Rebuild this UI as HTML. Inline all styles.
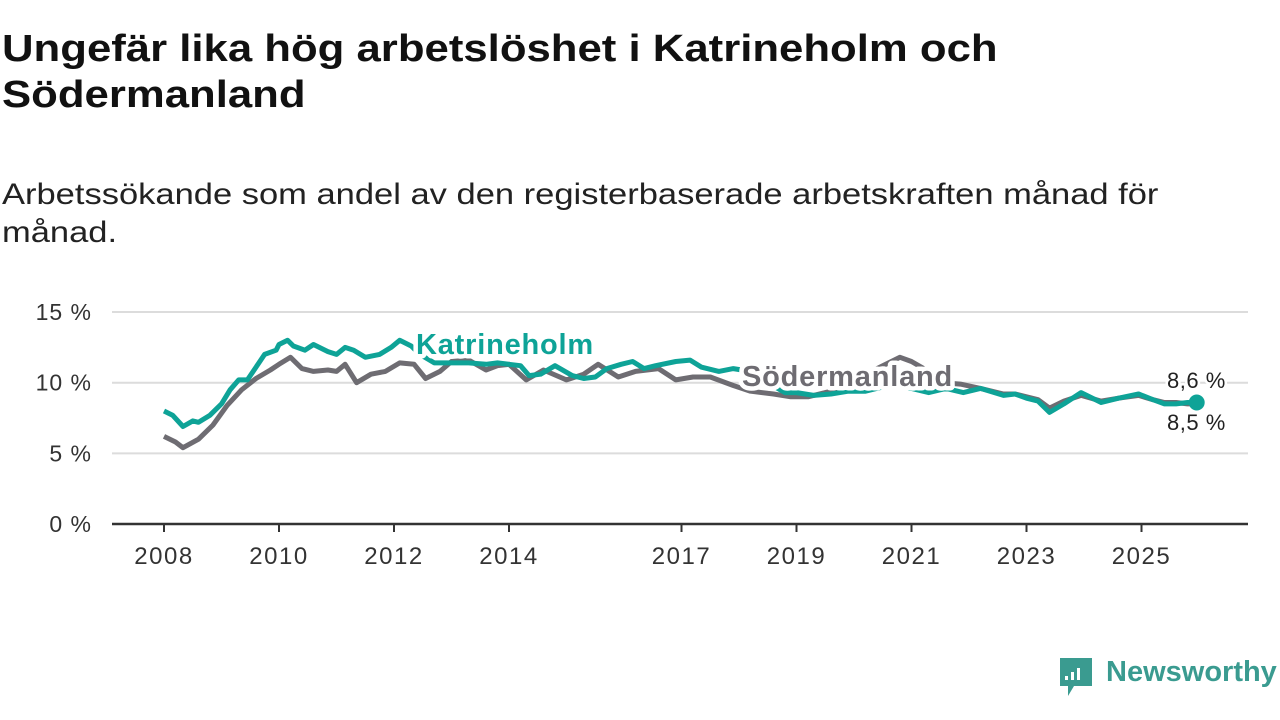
<!DOCTYPE html>
<html><head><meta charset="utf-8">
<style>
body{margin:0;background:#fff;width:1280px;height:720px;overflow:hidden;font-family:"Liberation Sans",sans-serif;}
#title{position:absolute;left:2px;top:26px;font-size:38px;font-weight:bold;line-height:46px;color:#111;margin:0;transform:scaleX(1.15);transform-origin:0 0;white-space:nowrap;}
#subtitle{position:absolute;left:2px;top:176px;font-size:30px;line-height:38px;color:#222;margin:0;transform:scaleX(1.15);transform-origin:0 0;white-space:nowrap;}
svg{position:absolute;left:0;top:0;}
</style></head>
<body>
<h1 id="title">Ungefär lika hög arbetslöshet i Katrineholm och<br>Södermanland</h1>
<p id="subtitle">Arbetssökande som andel av den registerbaserade arbetskraften månad för<br>månad.</p>
<svg id="chart" width="1280" height="720"></svg>
<script>
const yTicks=[0,5,10,15];
const yTickLabels=["0 %","5 %","10 %","15 %"];
const xTicks=[2008,2010,2012,2014,2017,2019,2021,2023,2025];
const katYears=[2008.0,2008.15,2008.33,2008.5,2008.6,2008.8,2009.0,2009.15,2009.3,2009.45,2009.65,2009.75,2009.95,2010.0,2010.15,2010.25,2010.45,2010.6,2010.85,2011.0,2011.15,2011.3,2011.5,2011.75,2011.95,2012.1,2012.3,2012.45,2012.7,2013.0,2013.3,2013.6,2013.8,2014.0,2014.2,2014.35,2014.55,2014.8,2015.1,2015.3,2015.5,2015.7,2015.95,2016.15,2016.35,2016.55,2016.9,2017.15,2017.35,2017.65,2017.9,2018.2,2018.5,2018.8,2019.0,2019.3,2019.6,2019.9,2020.2,2020.5,2020.8,2021.0,2021.3,2021.6,2021.9,2022.2,2022.6,2022.8,2023.0,2023.2,2023.4,2023.65,2023.95,2024.3,2024.6,2024.95,2025.2,2025.4,2025.6,2025.8,2025.96];
const katValues=[8.0,7.7,6.9,7.3,7.2,7.7,8.5,9.5,10.2,10.2,11.4,12.0,12.3,12.7,13.0,12.6,12.3,12.7,12.2,12.0,12.5,12.3,11.8,12.0,12.5,13.0,12.6,12.0,11.4,11.4,11.4,11.3,11.4,11.3,11.2,10.5,10.6,11.2,10.5,10.3,10.4,11.0,11.3,11.5,11.0,11.2,11.5,11.6,11.1,10.8,11.0,10.8,10.0,9.3,9.3,9.1,9.2,9.4,9.4,9.7,9.8,9.6,9.3,9.6,9.3,9.6,9.1,9.2,8.9,8.7,7.9,8.5,9.3,8.6,8.9,9.2,8.8,8.5,8.5,8.6,8.6];
const sodYears=[2008.0,2008.2,2008.33,2008.6,2008.85,2009.1,2009.35,2009.6,2009.85,2010.0,2010.2,2010.4,2010.6,2010.85,2011.0,2011.15,2011.35,2011.6,2011.85,2012.1,2012.35,2012.55,2012.8,2013.0,2013.3,2013.6,2013.8,2014.0,2014.3,2014.6,2015.0,2015.3,2015.55,2015.9,2016.2,2016.6,2016.9,2017.2,2017.5,2017.9,2018.2,2018.6,2018.9,2019.2,2019.6,2020.0,2020.4,2020.8,2021.0,2021.3,2021.55,2021.85,2022.2,2022.6,2022.8,2023.0,2023.2,2023.4,2023.65,2023.95,2024.3,2024.6,2024.95,2025.2,2025.4,2025.6,2025.8,2025.96];
const sodValues=[6.2,5.8,5.4,6.0,7.0,8.4,9.5,10.3,10.9,11.3,11.8,11.0,10.8,10.9,10.8,11.3,10.0,10.6,10.8,11.4,11.3,10.3,10.8,11.5,11.6,10.9,11.2,11.3,10.2,10.9,10.2,10.6,11.3,10.4,10.8,11.0,10.2,10.4,10.4,9.8,9.4,9.2,9.0,9.0,9.4,10.4,11.0,11.8,11.5,10.8,10.0,9.9,9.6,9.2,9.2,9.0,8.8,8.2,8.7,9.1,8.7,8.9,9.1,8.8,8.6,8.6,8.5,8.5];

const NS="http://www.w3.org/2000/svg";
const svg=document.getElementById('chart');
const X0=164,PERYR=57.5,Y0=524,PERPCT=14.13,LEFT=112,RIGHT=1248;
const xs=y=>X0+(y-2008)*PERYR;
const ys=v=>Y0-v*PERPCT;
function el(t,a){const e=document.createElementNS(NS,t);for(const k in a)e.setAttribute(k,a[k]);svg.appendChild(e);return e;}

yTicks.forEach((t,i)=>{
  if(t>0){const g=el('line',{x1:LEFT,x2:RIGHT,y1:ys(t),y2:ys(t),stroke:'#dcdcdc','stroke-width':2});
  
  }
  const l=el('text',{x:92,y:ys(t)+8,'text-anchor':'end','font-size':23,'letter-spacing':1,fill:'#333','font-family':'Liberation Sans, sans-serif'});
  l.textContent=yTickLabels[i];
  
  
});
const ax=el('line',{x1:LEFT,x2:RIGHT,y1:Y0,y2:Y0,stroke:'#333','stroke-width':2.5});


xTicks.forEach(t=>{
  const tk=el('line',{x1:xs(t),x2:xs(t),y1:Y0,y2:Y0+8,stroke:'#333','stroke-width':2});
  
  
  const l=el('text',{x:xs(t),y:564,'text-anchor':'middle','font-size':24,'letter-spacing':1.5,fill:'#333','font-family':'Liberation Sans, sans-serif'});
  l.textContent=t;
  
  
});
function path(yrs,vals){return yrs.map((y,i)=>(i?'L':'M')+xs(y).toFixed(1)+','+ys(vals[i]).toFixed(1)).join('');}
const sp=el('path',{d:path(sodYears,sodValues),fill:'none',stroke:'#6e6c72','stroke-width':5,'stroke-linejoin':'round'});


const kp=el('path',{d:path(katYears,katValues),fill:'none',stroke:'#0ea397','stroke-width':5,'stroke-linejoin':'round'});


const lastK=katValues[katValues.length-1],lastS=sodValues[sodValues.length-1];
const dot=el('circle',{cx:xs(katYears[katYears.length-1]),cy:ys(lastK),r:8,fill:'#0ea397'});


function lbl(txt,x,y,col,name,bold){
  const t=el('text',{x:x,y:y,'font-size':bold?29:22,'letter-spacing':bold?0.8:0.5,'font-weight':bold?'bold':'normal',fill:col,stroke:'#fff','stroke-width':bold?9:5,'paint-order':'stroke','stroke-linejoin':'round','font-family':'Liberation Sans, sans-serif'});
  t.textContent=txt;
  
  
}
lbl('Katrineholm',416,354,'#0ea397','katrineholm-label',true);
lbl('Södermanland',742,386,'#6e6c72','sodermanland-label',true);
lbl(String(lastK).replace('.',',')+' %',1167,388,'#222','katrineholm-value-label',false);
lbl(String(lastS).replace('.',',')+' %',1167,430,'#222','sodermanland-value-label',false);

// logo
const lg=el('g',{});


const ic=document.createElementNS(NS,'path');
ic.setAttribute('d','M1060,658 h32 v28 h-18 l-6,10 v-10 h-8 z');
ic.setAttribute('fill','#3a9b90');
lg.appendChild(ic);
[[1065,676,4],[1071,672,8],[1077,668,12]].forEach(b=>{const r=document.createElementNS(NS,'rect');r.setAttribute('x',b[0]);r.setAttribute('y',b[1]);r.setAttribute('width',3);r.setAttribute('height',b[2]);r.setAttribute('fill','#fff');lg.appendChild(r);});
const lt=document.createElementNS(NS,'text');
lt.setAttribute('x',1106);lt.setAttribute('y',681);lt.setAttribute('font-size',29);lt.setAttribute('font-weight','bold');lt.setAttribute('fill','#3a9b90');lt.setAttribute('font-family','Liberation Sans, sans-serif');
lt.textContent='Newsworthy';
lg.appendChild(lt);
</script>
</body></html>
